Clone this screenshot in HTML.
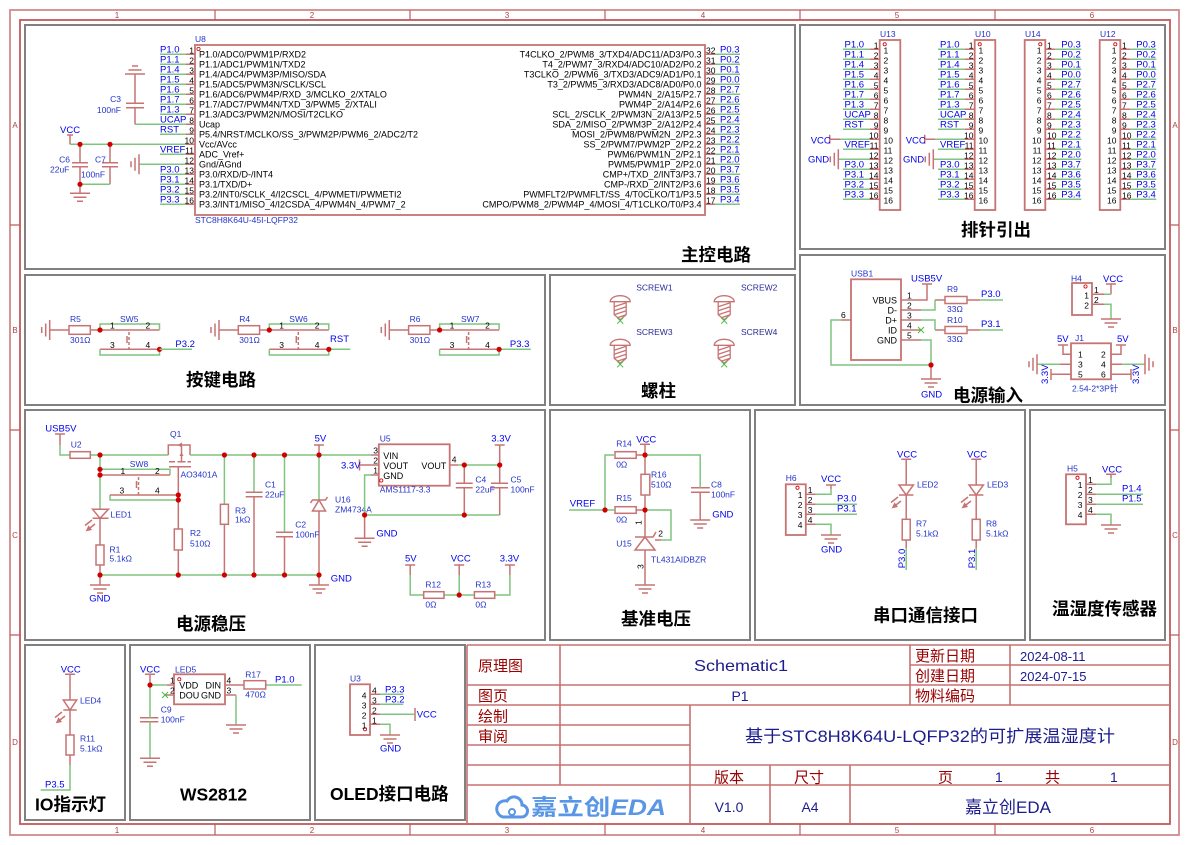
<!DOCTYPE html>
<html><head><meta charset="utf-8">
<style>
html,body{margin:0;padding:0;background:#fff}
svg{display:block}
text{font-family:"Liberation Sans","Noto Sans CJK SC",sans-serif}
.n{fill:#0000ee;font-size:9.5px}
.d{fill:#2233cc;font-size:8.5px}
.p{fill:#000;font-size:8.5px}
.nm{fill:#000;font-size:9px}
.t{fill:#000;font-size:17.5px;font-weight:bold}
.c{stroke:#c77373;fill:none;stroke-width:1.5}
.b{stroke:#c77373;fill:none;stroke-width:1.8}
.w{stroke:#80c480;fill:none;stroke-width:1.5}
.g{stroke:#808080;fill:none;stroke-width:2}
.fr{fill:#b04040;font-size:8px}
.tl{fill:#990000;font-size:15px}
.tv{fill:#1c1c8c;font-size:14px}
</style></head><body>
<svg width="1190" height="845" viewBox="0 0 1190 845" xmlns="http://www.w3.org/2000/svg">
<defs>
<g id="gd"><path d="M-10,0H10M-6.5,4H6.5M-3,8H3" stroke="#c77373" stroke-width="1.5" fill="none"/></g>
<g id="gu"><path d="M-10,0H10M-6.5,-4H6.5M-3,-8H3" stroke="#c77373" stroke-width="1.5" fill="none"/></g>
<g id="gl"><path d="M0,-10V10M-4,-6.5V6.5M-8,-3V3" stroke="#c77373" stroke-width="1.5" fill="none"/></g>
<g id="gr"><path d="M0,-10V10M4,-6.5V6.5M8,-3V3" stroke="#c77373" stroke-width="1.5" fill="none"/></g>
<circle id="j" r="2.6" fill="#d00000"/>
<marker id="ar" markerWidth="4" markerHeight="4" refX="2" refY="2" orient="auto"><path d="M0,0L4,2L0,4Z" fill="#c77373"/></marker>
<g id="sc">
<path d="M-10,6A10,6 0 0 1 10,6Z" stroke="#c77373" stroke-width="1.3" fill="none"/>
<path d="M-6,6V19L0,24L6,19V6M-6,11L6,7M-6,15L6,11M-6,19L6,15M-3,22L6,19" stroke="#c77373" stroke-width="1.3" fill="none"/>
<path d="M-3,22L3,28M3,22L-3,28" stroke="#40c040" stroke-width="1"/>
</g>
</defs>
<rect width="1190" height="845" fill="#fff"/>

<!-- frame -->
<rect x="10" y="10" width="1169" height="825" fill="none" stroke="#d08a8a" stroke-width="1.8"/>
<rect x="20" y="20" width="1150" height="804" fill="none" stroke="#c05a5a" stroke-width="1.8"/>
<path d="M215,10V20M410,10V20M605,10V20M800,10V20M995,10V20M215,824V835M410,824V835M605,824V835M800,824V835M995,824V835M10,225H20M10,430H20M10,635H20M1170,225H1179M1170,430H1179M1170,635H1179" stroke="#c05a5a" stroke-width="1.2"/>
<g class="fr" text-anchor="middle">
<text x="117" y="18">1</text><text x="312" y="18">2</text><text x="507" y="18">3</text><text x="703" y="18">4</text><text x="897" y="18">5</text><text x="1092" y="18">6</text>
<text x="117" y="833">1</text><text x="312" y="833">2</text><text x="507" y="833">3</text><text x="703" y="833">4</text><text x="897" y="833">5</text><text x="1092" y="833">6</text>
<text x="15" y="128">A</text><text x="15" y="333">B</text><text x="15" y="538">C</text><text x="15" y="745">D</text>
<text x="1175" y="128">A</text><text x="1175" y="333">B</text><text x="1175" y="538">C</text><text x="1175" y="745">D</text>
</g>

<!-- section boxes -->
<rect class="g" x="25" y="25" width="770" height="244"/>
<rect class="g" x="800" y="25" width="365" height="224"/>
<rect class="g" x="25" y="275" width="520" height="130"/>
<rect class="g" x="550" y="275" width="245" height="130"/>
<rect class="g" x="800" y="255" width="365" height="150"/>
<rect class="g" x="25" y="410" width="520" height="230"/>
<rect class="g" x="550" y="410" width="200" height="230"/>
<rect class="g" x="755" y="410" width="270" height="230"/>
<rect class="g" x="1030" y="410" width="135" height="230"/>
<rect class="g" x="25" y="645" width="100" height="175"/>
<rect class="g" x="130" y="645" width="180" height="175"/>
<rect class="g" x="315" y="645" width="150" height="175"/>

<!-- ===== 主控电路 ===== -->
<rect class="b" x="195" y="45" width="510" height="170"/>
<circle cx="198.5" cy="49" r="1.6" fill="none" stroke="#c00" stroke-width="0.8"/>
<text class="d" x="195" y="42">U8</text>
<text class="d" x="195" y="223">STC8H8K64U-45I-LQFP32</text>
<path class="w" d="M160,54.3H186M160,64.3H186M160,74.3H186M160,84.3H186M160,94.3H186M160,104.3H186M160,114.3H186M135,124.3H186M160,134.3H186M70,144.3H186M160,154.3H186M139,164.3H186M160,174.3H186M160,184.3H186M160,194.3H186M160,204.3H186"/>
<path class="c" d="M186,54.3H195M186,64.3H195M186,74.3H195M186,84.3H195M186,94.3H195M186,104.3H195M186,114.3H195M186,124.3H195M186,134.3H195M186,144.3H195M186,154.3H195M186,164.3H195M186,174.3H195M186,184.3H195M186,194.3H195M186,204.3H195"/>
<path class="c" d="M705,54.3H715M705,64.3H715M705,74.3H715M705,84.3H715M705,94.3H715M705,104.3H715M705,114.3H715M705,124.3H715M705,134.3H715M705,144.3H715M705,154.3H715M705,164.3H715M705,174.3H715M705,184.3H715M705,194.3H715M705,204.3H715"/>
<path class="w" d="M715,54.3H740M715,64.3H740M715,74.3H740M715,84.3H740M715,94.3H740M715,104.3H740M715,114.3H740M715,124.3H740M715,134.3H740M715,144.3H740M715,154.3H740M715,164.3H740M715,174.3H740M715,184.3H740M715,194.3H740M715,204.3H740"/>
<g class="nm">
<text x="199" y="57.6">P1.0/ADC0/PWM1P/RXD2</text>
<text x="199" y="67.6">P1.1/ADC1/PWM1N/TXD2</text>
<text x="199" y="77.6">P1.4/ADC4/PWM3P/MISO/SDA</text>
<text x="199" y="87.6">P1.5/ADC5/PWM3N/SCLK/SCL</text>
<text x="199" y="97.6">P1.6/ADC6/PWM4P/RXD_3/MCLKO_2/XTALO</text>
<text x="199" y="107.6">P1.7/ADC7/PWM4N/TXD_3/PWM5_2/XTALI</text>
<text x="199" y="117.6">P1.3/ADC3/PWM2N/MOSI/T2CLKO</text>
<text x="199" y="127.6">Ucap</text>
<text x="199" y="137.6">P5.4/NRST/MCLKO/SS_3/PWM2P/PWM6_2/ADC2/T2</text>
<text x="199" y="147.6">Vcc/AVcc</text>
<text x="199" y="157.6">ADC_Vref+</text>
<text x="199" y="167.6">Gnd/AGnd</text>
<text x="199" y="177.6">P3.0/RXD/D-/INT4</text>
<text x="199" y="187.6">P3.1/TXD/D+</text>
<text x="199" y="197.6">P3.2/INT0/SCLK_4/I2CSCL_4/PWMETI/PWMETI2</text>
<text x="199" y="207.6">P3.3/INT1/MISO_4/I2CSDA_4/PWM4N_4/PWM7_2</text>
</g>
<g class="nm" text-anchor="end">
<text x="701.5" y="57.6">T4CLKO_2/PWM8_3/TXD4/ADC11/AD3/P0.3</text>
<text x="701.5" y="67.6">T4_2/PWM7_3/RXD4/ADC10/AD2/P0.2</text>
<text x="701.5" y="77.6">T3CLKO_2/PWM6_3/TXD3/ADC9/AD1/P0.1</text>
<text x="701.5" y="87.6">T3_2/PWM5_3/RXD3/ADC8/AD0/P0.0</text>
<text x="701.5" y="97.6">PWM4N_2/A15/P2.7</text>
<text x="701.5" y="107.6">PWM4P_2/A14/P2.6</text>
<text x="701.5" y="117.6">SCL_2/SCLK_2/PWM3N_2/A13/P2.5</text>
<text x="701.5" y="127.6">SDA_2/MISO_2/PWM3P_2/A12/P2.4</text>
<text x="701.5" y="137.6">MOSI_2/PWM8/PWM2N_2/P2.3</text>
<text x="701.5" y="147.6">SS_2/PWM7/PWM2P_2/P2.2</text>
<text x="701.5" y="157.6">PWM6/PWM1N_2/P2.1</text>
<text x="701.5" y="167.6">PWM5/PWM1P_2/P2.0</text>
<text x="701.5" y="177.6">CMP+/TXD_2/INT3/P3.7</text>
<text x="701.5" y="187.6">CMP-/RXD_2/INT2/P3.6</text>
<text x="701.5" y="197.6">PWMFLT2/PWMFLT/SS_4/T0CLKO/T1/P3.5</text>
<text x="701.5" y="207.6">CMPO/PWM8_2/PWM4P_4/MOSI_4/T1CLKO/T0/P3.4</text>
</g>
<g class="p" text-anchor="end">
<text x="194" y="53.3">1</text><text x="194" y="63.3">2</text><text x="194" y="73.3">3</text><text x="194" y="83.3">4</text><text x="194" y="93.3">5</text><text x="194" y="103.3">6</text><text x="194" y="113.3">7</text><text x="194" y="123.3">8</text><text x="194" y="133.3">9</text><text x="194" y="143.3">10</text><text x="194" y="153.3">11</text><text x="194" y="163.3">12</text><text x="194" y="173.3">13</text><text x="194" y="183.3">14</text><text x="194" y="193.3">15</text><text x="194" y="203.3">16</text>
</g>
<g class="p">
<text x="706" y="53.3">32</text><text x="706" y="63.3">31</text><text x="706" y="73.3">30</text><text x="706" y="83.3">29</text><text x="706" y="93.3">28</text><text x="706" y="103.3">27</text><text x="706" y="113.3">26</text><text x="706" y="123.3">25</text><text x="706" y="133.3">24</text><text x="706" y="143.3">23</text><text x="706" y="153.3">22</text><text x="706" y="163.3">21</text><text x="706" y="173.3">20</text><text x="706" y="183.3">19</text><text x="706" y="193.3">18</text><text x="706" y="203.3">17</text>
</g>
<g class="n">
<text x="160" y="52.6">P1.0</text><text x="160" y="62.6">P1.1</text><text x="160" y="72.6">P1.4</text><text x="160" y="82.6">P1.5</text><text x="160" y="92.6">P1.6</text><text x="160" y="102.6">P1.7</text><text x="160" y="112.6">P1.3</text><text x="160" y="122.6">UCAP</text><text x="160" y="132.6">RST</text><text x="160" y="152.6">VREF</text><text x="160" y="172.6">P3.0</text><text x="160" y="182.6">P3.1</text><text x="160" y="192.6">P3.2</text><text x="160" y="202.6">P3.3</text>
<text x="720" y="52.6">P0.3</text><text x="720" y="62.6">P0.2</text><text x="720" y="72.6">P0.1</text><text x="720" y="82.6">P0.0</text><text x="720" y="92.6">P2.7</text><text x="720" y="102.6">P2.6</text><text x="720" y="112.6">P2.5</text><text x="720" y="122.6">P2.4</text><text x="720" y="132.6">P2.3</text><text x="720" y="142.6">P2.2</text><text x="720" y="152.6">P2.1</text><text x="720" y="162.6">P2.0</text><text x="720" y="172.6">P3.7</text><text x="720" y="182.6">P3.6</text><text x="720" y="192.6">P3.5</text><text x="720" y="202.6">P3.4</text>
</g>
<!-- C3 -->
<use href="#gu" x="135" y="74"/>
<path class="c" d="M135,74V103.3M126,103.3H144M126,107.7H144M135,107.7V124.3"/>
<text class="d" x="121" y="102" text-anchor="end">C3</text>
<text class="d" x="121" y="113" text-anchor="end">100nF</text>
<!-- VCC, C6, C7 -->
<text class="n" x="60" y="133">VCC</text>
<path class="c" d="M70,135V144.3M67,135H73"/>
<path class="c" d="M80,144.3V162.7M72,162.7H88M72,166.7H88M80,166.7V193.3M110,144.3V162.7M102,162.7H118M102,166.7H118M110,166.7V184.3"/>
<path class="w" d="M80,184.3H110"/>
<use href="#gd" x="80" y="193.3"/>
<use href="#j" x="80" y="144.3"/><use href="#j" x="110" y="144.3"/><use href="#j" x="80" y="184.3"/>
<text class="d" x="70" y="162.5" text-anchor="end">C6</text>
<text class="d" x="50" y="172.7">22uF</text>
<text class="d" x="95" y="162.5">C7</text>
<text class="d" x="81" y="177.3">100nF</text>
<use href="#gl" x="139" y="164.3"/>
<text class="t" x="681" y="261">主控电路</text>

<!-- ===== 排针引出 ===== -->
<rect class="b" x="879.7" y="40" width="20.6" height="170"/>
<rect class="b" x="974.7" y="40" width="20.6" height="170"/>
<rect class="b" x="1024.7" y="40" width="20.6" height="170"/>
<rect class="b" x="1099.7" y="40" width="20.6" height="170"/>
<g fill="none" stroke="#c00" stroke-width="0.8"><circle cx="884.7" cy="44.3" r="1.6"/><circle cx="979.7" cy="44.3" r="1.6"/><circle cx="1040.3" cy="44.3" r="1.6"/><circle cx="1115.3" cy="44.3" r="1.6"/></g>
<text class="d" x="880" y="37">U13</text><text class="d" x="975" y="37">U10</text><text class="d" x="1025" y="37">U14</text><text class="d" x="1100" y="37">U12</text>
<path class="w" d="M843,49.3H869.7M843,59.3H869.7M843,69.3H869.7M843,79.3H869.7M843,89.3H869.7M843,99.3H869.7M843,109.3H869.7M843,119.3H869.7M843,129.3H869.7M840,139.3H869.7M843,149.3H869.7M838.3,159.3H869.7M843,169.3H869.7M843,179.3H869.7M843,189.3H869.7M843,199.3H869.7"/>
<path class="c" d="M869.7,49.3H879.7M869.7,59.3H879.7M869.7,69.3H879.7M869.7,79.3H879.7M869.7,89.3H879.7M869.7,99.3H879.7M869.7,109.3H879.7M869.7,119.3H879.7M869.7,129.3H879.7M869.7,139.3H879.7M869.7,149.3H879.7M869.7,159.3H879.7M869.7,169.3H879.7M869.7,179.3H879.7M869.7,189.3H879.7M869.7,199.3H879.7M829.7,134.8V143.8M829.7,139.3H840"/>
<use href="#gl" x="838.3" y="159.3"/>
<text class="n" x="810.7" y="143.3">VCC</text><text class="n" x="808" y="162.7">GND</text>
<path class="w" d="M938,49.3H964.7M938,59.3H964.7M938,69.3H964.7M938,79.3H964.7M938,89.3H964.7M938,99.3H964.7M938,109.3H964.7M938,119.3H964.7M938,129.3H964.7M935,139.3H964.7M938,149.3H964.7M933.3,159.3H964.7M938,169.3H964.7M938,179.3H964.7M938,189.3H964.7M938,199.3H964.7"/>
<path class="c" d="M964.7,49.3H974.7M964.7,59.3H974.7M964.7,69.3H974.7M964.7,79.3H974.7M964.7,89.3H974.7M964.7,99.3H974.7M964.7,109.3H974.7M964.7,119.3H974.7M964.7,129.3H974.7M964.7,139.3H974.7M964.7,149.3H974.7M964.7,159.3H974.7M964.7,169.3H974.7M964.7,179.3H974.7M964.7,189.3H974.7M964.7,199.3H974.7M924.7,134.8V143.8M924.7,139.3H935"/>
<use href="#gl" x="933.3" y="159.3"/>
<text class="n" x="905.7" y="143.3">VCC</text><text class="n" x="903" y="162.7">GND</text>
<g class="n">
<text x="844.5" y="47.3">P1.0</text><text x="844.5" y="57.3">P1.1</text><text x="844.5" y="67.3">P1.4</text><text x="844.5" y="77.3">P1.5</text><text x="844.5" y="87.3">P1.6</text><text x="844.5" y="97.3">P1.7</text><text x="844.5" y="107.3">P1.3</text><text x="844.5" y="117.3">UCAP</text><text x="844.5" y="127.3">RST</text><text x="844.5" y="147.3">VREF</text><text x="844.5" y="167.3">P3.0</text><text x="844.5" y="177.3">P3.1</text><text x="844.5" y="187.3">P3.2</text><text x="844.5" y="197.3">P3.3</text>
<text x="940" y="47.3">P1.0</text><text x="940" y="57.3">P1.1</text><text x="940" y="67.3">P1.4</text><text x="940" y="77.3">P1.5</text><text x="940" y="87.3">P1.6</text><text x="940" y="97.3">P1.7</text><text x="940" y="107.3">P1.3</text><text x="940" y="117.3">UCAP</text><text x="940" y="127.3">RST</text><text x="940" y="147.3">VREF</text><text x="940" y="167.3">P3.0</text><text x="940" y="177.3">P3.1</text><text x="940" y="187.3">P3.2</text><text x="940" y="197.3">P3.3</text>
<text x="1061.3" y="47.3">P0.3</text><text x="1061.3" y="57.3">P0.2</text><text x="1061.3" y="67.3">P0.1</text><text x="1061.3" y="77.3">P0.0</text><text x="1061.3" y="87.3">P2.7</text><text x="1061.3" y="97.3">P2.6</text><text x="1061.3" y="107.3">P2.5</text><text x="1061.3" y="117.3">P2.4</text><text x="1061.3" y="127.3">P2.3</text><text x="1061.3" y="137.3">P2.2</text><text x="1061.3" y="147.3">P2.1</text><text x="1061.3" y="157.3">P2.0</text><text x="1061.3" y="167.3">P3.7</text><text x="1061.3" y="177.3">P3.6</text><text x="1061.3" y="187.3">P3.5</text><text x="1061.3" y="197.3">P3.4</text>
<text x="1136.3" y="47.3">P0.3</text><text x="1136.3" y="57.3">P0.2</text><text x="1136.3" y="67.3">P0.1</text><text x="1136.3" y="77.3">P0.0</text><text x="1136.3" y="87.3">P2.7</text><text x="1136.3" y="97.3">P2.6</text><text x="1136.3" y="107.3">P2.5</text><text x="1136.3" y="117.3">P2.4</text><text x="1136.3" y="127.3">P2.3</text><text x="1136.3" y="137.3">P2.2</text><text x="1136.3" y="147.3">P2.1</text><text x="1136.3" y="157.3">P2.0</text><text x="1136.3" y="167.3">P3.7</text><text x="1136.3" y="177.3">P3.6</text><text x="1136.3" y="187.3">P3.5</text><text x="1136.3" y="197.3">P3.4</text>
</g>
<path class="c" d="M1045.3,49.3H1055.3M1045.3,59.3H1055.3M1045.3,69.3H1055.3M1045.3,79.3H1055.3M1045.3,89.3H1055.3M1045.3,99.3H1055.3M1045.3,109.3H1055.3M1045.3,119.3H1055.3M1045.3,129.3H1055.3M1045.3,139.3H1055.3M1045.3,149.3H1055.3M1045.3,159.3H1055.3M1045.3,169.3H1055.3M1045.3,179.3H1055.3M1045.3,189.3H1055.3M1045.3,199.3H1055.3"/>
<path class="w" d="M1055.3,49.3H1081.3M1055.3,59.3H1081.3M1055.3,69.3H1081.3M1055.3,79.3H1081.3M1055.3,89.3H1081.3M1055.3,99.3H1081.3M1055.3,109.3H1081.3M1055.3,119.3H1081.3M1055.3,129.3H1081.3M1055.3,139.3H1081.3M1055.3,149.3H1081.3M1055.3,159.3H1081.3M1055.3,169.3H1081.3M1055.3,179.3H1081.3M1055.3,189.3H1081.3M1055.3,199.3H1081.3"/>
<path class="c" d="M1120.3,49.3H1130.3M1120.3,59.3H1130.3M1120.3,69.3H1130.3M1120.3,79.3H1130.3M1120.3,89.3H1130.3M1120.3,99.3H1130.3M1120.3,109.3H1130.3M1120.3,119.3H1130.3M1120.3,129.3H1130.3M1120.3,139.3H1130.3M1120.3,149.3H1130.3M1120.3,159.3H1130.3M1120.3,169.3H1130.3M1120.3,179.3H1130.3M1120.3,189.3H1130.3M1120.3,199.3H1130.3"/>
<path class="w" d="M1130.3,49.3H1156.3M1130.3,59.3H1156.3M1130.3,69.3H1156.3M1130.3,79.3H1156.3M1130.3,89.3H1156.3M1130.3,99.3H1156.3M1130.3,109.3H1156.3M1130.3,119.3H1156.3M1130.3,129.3H1156.3M1130.3,139.3H1156.3M1130.3,149.3H1156.3M1130.3,159.3H1156.3M1130.3,169.3H1156.3M1130.3,179.3H1156.3M1130.3,189.3H1156.3M1130.3,199.3H1156.3"/>
<g class="p" text-anchor="end">
<text x="878.5" y="48.3">1</text><text x="878.5" y="58.3">2</text><text x="878.5" y="68.3">3</text><text x="878.5" y="78.3">4</text><text x="878.5" y="88.3">5</text><text x="878.5" y="98.3">6</text><text x="878.5" y="108.3">7</text><text x="878.5" y="118.3">8</text><text x="878.5" y="128.3">9</text><text x="878.5" y="138.3">10</text><text x="878.5" y="148.3">11</text><text x="878.5" y="158.3">12</text><text x="878.5" y="168.3">13</text><text x="878.5" y="178.3">14</text><text x="878.5" y="188.3">15</text><text x="878.5" y="198.3">16</text>
<text x="973.5" y="48.3">1</text><text x="973.5" y="58.3">2</text><text x="973.5" y="68.3">3</text><text x="973.5" y="78.3">4</text><text x="973.5" y="88.3">5</text><text x="973.5" y="98.3">6</text><text x="973.5" y="108.3">7</text><text x="973.5" y="118.3">8</text><text x="973.5" y="128.3">9</text><text x="973.5" y="138.3">10</text><text x="973.5" y="148.3">11</text><text x="973.5" y="158.3">12</text><text x="973.5" y="168.3">13</text><text x="973.5" y="178.3">14</text><text x="973.5" y="188.3">15</text><text x="973.5" y="198.3">16</text>
<text x="1041.5" y="53.3">1</text><text x="1041.5" y="63.3">2</text><text x="1041.5" y="73.3">3</text><text x="1041.5" y="83.3">4</text><text x="1041.5" y="93.3">5</text><text x="1041.5" y="103.3">6</text><text x="1041.5" y="113.3">7</text><text x="1041.5" y="123.3">8</text><text x="1041.5" y="133.3">9</text><text x="1041.5" y="143.3">10</text><text x="1041.5" y="153.3">11</text><text x="1041.5" y="163.3">12</text><text x="1041.5" y="173.3">13</text><text x="1041.5" y="183.3">14</text><text x="1041.5" y="193.3">15</text><text x="1041.5" y="203.3">16</text>
<text x="1116.5" y="53.3">1</text><text x="1116.5" y="63.3">2</text><text x="1116.5" y="73.3">3</text><text x="1116.5" y="83.3">4</text><text x="1116.5" y="93.3">5</text><text x="1116.5" y="103.3">6</text><text x="1116.5" y="113.3">7</text><text x="1116.5" y="123.3">8</text><text x="1116.5" y="133.3">9</text><text x="1116.5" y="143.3">10</text><text x="1116.5" y="153.3">11</text><text x="1116.5" y="163.3">12</text><text x="1116.5" y="173.3">13</text><text x="1116.5" y="183.3">14</text><text x="1116.5" y="193.3">15</text><text x="1116.5" y="203.3">16</text>
</g>
<g class="p">
<text x="883.5" y="53.3">1</text><text x="883.5" y="63.3">2</text><text x="883.5" y="73.3">3</text><text x="883.5" y="83.3">4</text><text x="883.5" y="93.3">5</text><text x="883.5" y="103.3">6</text><text x="883.5" y="113.3">7</text><text x="883.5" y="123.3">8</text><text x="883.5" y="133.3">9</text><text x="883.5" y="143.3">10</text><text x="883.5" y="153.3">11</text><text x="883.5" y="163.3">12</text><text x="883.5" y="173.3">13</text><text x="883.5" y="183.3">14</text><text x="883.5" y="193.3">15</text><text x="883.5" y="203.3">16</text>
<text x="978.5" y="53.3">1</text><text x="978.5" y="63.3">2</text><text x="978.5" y="73.3">3</text><text x="978.5" y="83.3">4</text><text x="978.5" y="93.3">5</text><text x="978.5" y="103.3">6</text><text x="978.5" y="113.3">7</text><text x="978.5" y="123.3">8</text><text x="978.5" y="133.3">9</text><text x="978.5" y="143.3">10</text><text x="978.5" y="153.3">11</text><text x="978.5" y="163.3">12</text><text x="978.5" y="173.3">13</text><text x="978.5" y="183.3">14</text><text x="978.5" y="193.3">15</text><text x="978.5" y="203.3">16</text>
<text x="1047" y="48.3">1</text><text x="1047" y="58.3">2</text><text x="1047" y="68.3">3</text><text x="1047" y="78.3">4</text><text x="1047" y="88.3">5</text><text x="1047" y="98.3">6</text><text x="1047" y="108.3">7</text><text x="1047" y="118.3">8</text><text x="1047" y="128.3">9</text><text x="1047" y="138.3">10</text><text x="1047" y="148.3">11</text><text x="1047" y="158.3">12</text><text x="1047" y="168.3">13</text><text x="1047" y="178.3">14</text><text x="1047" y="188.3">15</text><text x="1047" y="198.3">16</text>
<text x="1122" y="48.3">1</text><text x="1122" y="58.3">2</text><text x="1122" y="68.3">3</text><text x="1122" y="78.3">4</text><text x="1122" y="88.3">5</text><text x="1122" y="98.3">6</text><text x="1122" y="108.3">7</text><text x="1122" y="118.3">8</text><text x="1122" y="128.3">9</text><text x="1122" y="138.3">10</text><text x="1122" y="148.3">11</text><text x="1122" y="158.3">12</text><text x="1122" y="168.3">13</text><text x="1122" y="178.3">14</text><text x="1122" y="188.3">15</text><text x="1122" y="198.3">16</text>
</g>
<text class="t" x="961" y="236">排针引出</text>

<!-- ===== 按键电路 ===== -->
<g id="kb1">
<use href="#gl" x="49.7" y="330"/>
<path class="c" d="M49.7,330H69M90.3,330H100"/>
<rect class="c" x="69" y="325.7" width="21.3" height="8.6"/>
<path class="c" d="M100,330H159.5M100,349.3H159.5M127,336V343"/>
<path class="c" d="M129,332V349" stroke-dasharray="3,2"/>
<path class="w" d="M100,330V324H159.5V330M100,349.3V355H159.5V349.3"/>
<use href="#j" x="100" y="330"/><use href="#j" x="159.5" y="349.3"/>
</g>
<path class="w" d="M159.5,349.3H192"/>
<g transform="translate(169.3,0)">
<use href="#gl" x="49.7" y="330"/>
<path class="c" d="M49.7,330H69M90.3,330H100"/>
<rect class="c" x="69" y="325.7" width="21.3" height="8.6"/>
<path class="c" d="M100,330H159.5M100,349.3H159.5M127,336V343"/>
<path class="c" d="M129,332V349" stroke-dasharray="3,2"/>
<path class="w" d="M100,330V324H159.5V330M100,349.3V355H159.5V349.3M159.5,349.3H181"/>
<use href="#j" x="100" y="330"/><use href="#j" x="159.5" y="349.3"/>
</g>
<g transform="translate(339.6,0)">
<use href="#gl" x="49.7" y="330"/>
<path class="c" d="M49.7,330H69M90.3,330H100"/>
<rect class="c" x="69" y="325.7" width="21.3" height="8.6"/>
<path class="c" d="M100,330H159.5M100,349.3H159.5M127,336V343"/>
<path class="c" d="M129,332V349" stroke-dasharray="3,2"/>
<path class="w" d="M100,330V324H159.5V330M100,349.3V355H159.5V349.3M159.5,349.3H191.2"/>
<use href="#j" x="100" y="330"/><use href="#j" x="159.5" y="349.3"/>
</g>
<g class="d">
<text x="70" y="322">R5</text><text x="70" y="343">301Ω</text><text x="120" y="322">SW5</text>
<text x="239.3" y="322">R4</text><text x="239.3" y="343">301Ω</text><text x="289.3" y="322">SW6</text>
<text x="409.6" y="322">R6</text><text x="409.6" y="343">301Ω</text><text x="461" y="322">SW7</text>
</g>
<g class="p">
<text x="110" y="328.5">1</text><text x="145.5" y="328.5">2</text><text x="110" y="348">3</text><text x="145.5" y="348">4</text>
<text x="279.3" y="328.5">1</text><text x="314.8" y="328.5">2</text><text x="279.3" y="348">3</text><text x="314.8" y="348">4</text>
<text x="449.6" y="328.5">1</text><text x="485.1" y="328.5">2</text><text x="449.6" y="348">3</text><text x="485.1" y="348">4</text>
</g>
<text class="n" x="175.4" y="347">P3.2</text>
<text class="n" x="330" y="342">RST</text>
<text class="n" x="509.9" y="347">P3.3</text>
<text class="t" x="186" y="386">按键电路</text>

<!-- ===== 螺柱 ===== -->
<use href="#sc" x="620.2" y="295.7"/>
<use href="#sc" x="724.2" y="295.7"/>
<use href="#sc" x="620.2" y="339.3"/>
<use href="#sc" x="724.2" y="339.3"/>
<g fill="#2a2a9a" font-size="8.5px">
<text x="636.2" y="290.7">SCREW1</text><text x="741" y="290.7">SCREW2</text>
<text x="636.2" y="335">SCREW3</text><text x="741" y="335">SCREW4</text>
</g>
<text class="t" x="641" y="397">螺柱</text>

<!-- ===== 电源输入 ===== -->
<rect class="b" x="851" y="279.3" width="50" height="80.7"/>
<text class="d" x="851" y="276.5">USB1</text>
<g class="nm" text-anchor="end">
<text x="897" y="303.5">VBUS</text><text x="897" y="313.5">D-</text><text x="897" y="323.5">D+</text><text x="897" y="333.5">ID</text><text x="897" y="343.5">GND</text>
</g>
<g class="p">
<text x="907" y="298.3">1</text><text x="907" y="308.3">2</text><text x="907" y="318.3">3</text><text x="907" y="328.3">4</text><text x="907" y="338.3">5</text><text x="841" y="318">6</text>
</g>
<path class="c" d="M901,300H927V284M922,284H932M901,310H921M901,320H921M901,330H921M901,340H921M935,300H945M967,300H980M935,330H945M967,330H980M851,320H841M931,365V379"/>
<path class="w" d="M921,310H935V300M921,320H935V330M980,300H1003M980,330H1003M921,340H931V365M841,320H831V365H931"/>
<path d="M918,327L924,333M924,327L918,333" stroke="#40c040" stroke-width="1"/>
<rect class="c" x="945" y="296.5" width="22" height="7"/>
<rect class="c" x="945" y="326.5" width="22" height="7"/>
<use href="#j" x="931" y="365"/>
<use href="#gd" x="931" y="379"/>
<text class="n" x="911" y="281.7">USB5V</text>
<text class="d" x="947" y="292">R9</text><text class="d" x="947" y="312">33Ω</text>
<text class="d" x="947" y="323">R10</text><text class="d" x="947" y="342">33Ω</text>
<text class="n" x="981" y="297">P3.0</text><text class="n" x="981" y="327">P3.1</text>
<text class="n" x="921" y="397.5">GND</text>
<!-- H4 -->
<rect class="b" x="1072" y="283" width="20" height="32"/>
<circle cx="1085.5" cy="286.5" r="1.6" fill="none" stroke="#c00" stroke-width="0.8"/>
<text class="d" x="1071" y="281.5">H4</text>
<path class="c" d="M1092,294.3H1104M1092,304.3H1104M1111,294.3V284M1106,284H1116"/>
<path class="w" d="M1104,294.3H1111M1104,304.3H1111V319"/>
<use href="#gd" x="1111" y="319"/>
<text class="n" x="1103" y="282">VCC</text>
<g class="p"><text x="1094" y="293">1</text><text x="1094" y="303">2</text><text x="1089" y="298.5" text-anchor="end">1</text><text x="1089" y="308.5" text-anchor="end">2</text></g>
<!-- J1 -->
<rect class="b" x="1071" y="343.3" width="40" height="36"/>
<text class="d" x="1075" y="341" font-size="5px">J1</text>
<g class="p">
<text x="1078" y="357.5">1</text><text x="1101" y="357.5">2</text><text x="1078" y="367.5">3</text><text x="1101" y="367.5">4</text><text x="1078" y="377.5">5</text><text x="1101" y="377.5">6</text>
</g>
<path class="c" d="M1071,354.3H1063V345M1058,345H1068M1111,354.3H1121V345M1116,345H1126M1071,364.3H1060M1111,364.3H1122M1071,374.3H1051M1051,369V380M1111,374.3H1131M1131,369V380"/>
<path class="w" d="M1060,364.3H1037M1122,364.3H1145"/>
<use href="#gl" x="1037" y="364.3"/>
<use href="#gr" x="1145" y="364.3"/>
<text class="n" x="1057" y="342">5V</text><text class="n" x="1117" y="342">5V</text>
<text class="n" transform="translate(1048,384) rotate(-90)">3.3V</text>
<text class="n" transform="translate(1139,384) rotate(-90)">3.3V</text>
<text class="d" x="1072" y="391.7" font-size="8px">2.54-2*3P针</text>
<text class="t" x="953" y="401.5">电源输入</text>

<!-- ===== 电源稳压 ===== -->
<text class="n" x="45.3" y="431.7">USB5V</text>
<path class="c" d="M60,434V445M55,434H65"/>
<path class="w" d="M60,445V455H70M90.3,455H168.3M100,455V509.3"/>
<rect class="c" x="70" y="451.7" width="20.3" height="6.6"/>
<text class="d" x="70.7" y="447.3">U2</text>
<!-- SW8 -->
<path class="w" d="M100,469.3H170V475M110,495V500H178.3"/>
<path class="c" d="M100,475H170M110,495H178.3M136.5,481V488"/>
<path class="c" d="M138.5,477V494.5" stroke-dasharray="3,2"/>
<text class="d" x="129.8" y="467">SW8</text>
<g class="p"><text x="120.5" y="473.8">1</text><text x="155" y="473.8">2</text><text x="119.5" y="493.5">3</text><text x="155" y="493.5">4</text></g>
<!-- Q1 -->
<path class="c" d="M168.3,455V445H190V455M181.5,445V461M169,461.7H175M177.5,461.7H185.5M187.5,461.7H191M169,466.7H191M178.3,466.7V495M178.3,500V529"/>
<path d="M177.5,445L182,442.5V447.5Z" fill="#c77373"/>
<path d="M181.5,452L179.5,456H183.5Z" fill="#c77373"/>
<path class="w" d="M190,455H371"/>
<text class="d" x="170" y="437">Q1</text>
<text class="d" x="180.5" y="477.7">AO3401A</text>
<!-- LED1 R1 -->
<path class="c" d="M92.6,509.3H108.5L100,518.3ZM92.6,518.3H108.5M100,518.3V545M100,565V575"/>
<rect class="c" x="96" y="545" width="8" height="20"/>
<path class="c" d="M92,520L85,525.5M95,524L88,529.5" stroke-width="1" marker-end="url(#ar)"/>
<text class="d" x="110.5" y="517.3">LED1</text>
<text class="d" x="109.5" y="552.3">R1</text><text class="d" x="109.5" y="561.7">5.1kΩ</text>
<!-- R2 -->
<rect class="c" x="174.3" y="529" width="8" height="21"/>
<path class="c" d="M178.3,550V575"/>
<text class="d" x="190" y="536">R2</text><text class="d" x="190" y="546.7">510Ω</text>
<!-- R3 C1 C2 U16 -->
<path class="w" d="M224.4,455V504.3M254,455V492.3M284.5,455V532.3M319,455V500"/>
<rect class="c" x="220.4" y="504.3" width="8" height="20"/>
<path class="c" d="M224.4,524.3V575M245.7,492.3H262.6M245.7,496.7H262.6M254,496.7V575M276,532.3H293M276,536.7H293M284.5,536.7V575"/>
<path class="c" d="M310.5,503L312.5,500H325.5L327.5,497M319,500L312.5,511H325.5ZM319,511V575"/>
<path class="w" d="M100,575H319"/>
<path class="c" d="M100,575V585M319,575V585M319,445V455M314,445H324"/>
<use href="#gd" x="100" y="585"/><use href="#gd" x="319" y="585"/>
<use href="#j" x="100" y="455"/><use href="#j" x="100" y="469.3"/><use href="#j" x="100" y="475"/>
<use href="#j" x="178.3" y="495"/><use href="#j" x="178.3" y="500"/>
<use href="#j" x="224.4" y="455"/><use href="#j" x="254" y="455"/><use href="#j" x="284.5" y="455"/><use href="#j" x="319" y="455"/>
<use href="#j" x="100" y="575"/><use href="#j" x="178.3" y="575"/><use href="#j" x="224.4" y="575"/><use href="#j" x="254" y="575"/><use href="#j" x="284.5" y="575"/><use href="#j" x="319" y="575"/>
<text class="d" x="235" y="513.3">R3</text><text class="d" x="235" y="522.3">1kΩ</text>
<text class="d" x="265" y="487.3">C1</text><text class="d" x="265" y="497.3">22uF</text>
<text class="d" x="295.3" y="527.3">C2</text><text class="d" x="295.3" y="537.3">100nF</text>
<text class="d" x="335" y="502.3">U16</text><text class="d" x="335" y="512.3">ZM4734A</text>
<text class="n" x="314.6" y="441.7">5V</text>
<text class="n" x="89.3" y="601.7">GND</text>
<text class="n" x="330.8" y="581.7">GND</text>
<!-- U5 -->
<rect class="b" x="378.8" y="444.3" width="70.9" height="41.4"/>
<circle cx="381.3" cy="480.5" r="1.6" fill="none" stroke="#c00" stroke-width="0.8"/>
<text class="d" x="379.8" y="441.7">U5</text>
<text class="d" x="379.8" y="492.3">AMS1117-3.3</text>
<g class="nm"><text x="383.2" y="459">VIN</text><text x="383.2" y="469">VOUT</text><text x="383.2" y="479">GND</text><text x="446.4" y="469" text-anchor="end">VOUT</text></g>
<g class="p" text-anchor="end"><text x="378" y="453.5">3</text><text x="378" y="463.5">2</text><text x="378" y="473.5">1</text></g>
<text class="p" x="451.8" y="462.3">4</text>
<path class="c" d="M371,455H378.8M359.5,465H378.8M359.5,459.5V470.5M371,475H378.8M449.7,465H458M364.6,515V538.3"/>
<path class="w" d="M371,475H364.6V515H499.7M458,465H499.7"/>
<use href="#gd" x="364.6" y="538.3"/>
<text class="n" x="341" y="468.3">3.3V</text>
<text class="n" x="376.4" y="536.7">GND</text>
<path class="c" d="M499.7,445V465M494.7,445H504.7M464.3,465V483.3M455.8,483.3H472.7M455.8,487.7H472.7M464.3,487.7V515M499.7,465V483.3M491,483.3H508M491,487.7H508M499.7,487.7V515"/>
<use href="#j" x="364.6" y="515"/><use href="#j" x="464.3" y="515"/><use href="#j" x="464.3" y="465"/><use href="#j" x="499.7" y="465"/>
<text class="n" x="491.3" y="441.7">3.3V</text>
<text class="d" x="475.4" y="482.3">C4</text><text class="d" x="475.4" y="492.3">22uF</text>
<text class="d" x="510.5" y="482.3">C5</text><text class="d" x="510.5" y="492.3">100nF</text>
<!-- R12 R13 -->
<path class="c" d="M410.2,565V575M405.2,565H415.2M459.2,565V575M454.2,565H464.2M509.9,565V575M504.9,565H514.9"/>
<path class="w" d="M410.2,575V595H423.7M444,595H474.4M459.2,575V595M494.7,595H509.9V575"/>
<rect class="c" x="423.7" y="591.7" width="20.3" height="6.6"/>
<rect class="c" x="474.4" y="591.7" width="20.3" height="6.6"/>
<use href="#j" x="459.2" y="595"/>
<text class="n" x="405" y="561.7">5V</text><text class="n" x="450.7" y="561.7">VCC</text><text class="n" x="499.7" y="561.7">3.3V</text>
<text class="d" x="425.4" y="587.3">R12</text><text class="d" x="425.4" y="607.3">0Ω</text>
<text class="d" x="475.4" y="587.3">R13</text><text class="d" x="475.4" y="607.3">0Ω</text>
<text class="t" x="176" y="630">电源稳压</text>

<!-- ===== 基准电压 ===== -->
<text class="n" x="636.2" y="442.3">VCC</text>
<path class="c" d="M645,444.3V455M640,444.3H650M636.2,455H645M645,455V474.3M645,495V510M636.2,510H645M645,510V537M635,537H653L656,532M645,537L635,550H655ZM645,550V585M655,540H661M700.2,492.3V520M691,487.7H709.8M691,492.3H709.8"/>
<rect class="c" x="615" y="451.7" width="21.2" height="6.6"/>
<rect class="c" x="615" y="506.7" width="21.2" height="6.6"/>
<rect class="c" x="641" y="474.3" width="8.8" height="20.7"/>
<path class="w" d="M615,455H605V510M645,455H700.2V487.7M569,510H615M645,510H671V540H661"/>
<use href="#gd" x="700.2" y="520"/><use href="#gd" x="645" y="585"/>
<use href="#j" x="645" y="455"/><use href="#j" x="605" y="510"/><use href="#j" x="645" y="510"/>
<text class="d" x="616.2" y="446.7">R14</text><text class="d" x="616.2" y="467.3">0Ω</text>
<text class="d" x="651" y="477.7">R16</text><text class="d" x="651" y="487.3">510Ω</text>
<text class="d" x="616.2" y="501">R15</text><text class="d" x="616.2" y="522.3">0Ω</text>
<text class="d" x="711" y="487.7">C8</text><text class="d" x="711" y="497.3">100nF</text>
<text class="n" x="712.2" y="517.7">GND</text>
<text class="n" x="569.8" y="506.7">VREF</text>
<text class="d" x="616.2" y="546.7">U15</text>
<text class="d" x="651" y="562.3">TL431AIDBZR</text>
<text class="p" x="658.2" y="536.7">2</text>
<text class="p" transform="translate(641.5,525) rotate(-90)">1</text>
<text class="p" transform="translate(643.5,569) rotate(-90)">3</text>
<text class="t" x="621" y="625">基准电压</text>

<!-- ===== 串口通信接口 ===== -->
<rect class="b" x="785.8" y="484.3" width="20" height="50.7"/>
<circle cx="797.5" cy="487.8" r="1.6" fill="none" stroke="#c00" stroke-width="0.8"/>
<text class="d" x="785.8" y="481">H6</text>
<path class="c" d="M805.8,494.3H815.8M805.8,504.3H815.8M805.8,514.3H815.8M805.8,524.3H815.8M831,485V489M826,485H836"/>
<path class="w" d="M815.8,494.3H831V489M815.8,504.3H857M815.8,514.3H857M815.8,524.3H831V535"/>
<use href="#gd" x="831" y="535"/>
<g class="p" text-anchor="end"><text x="802.5" y="498">1</text><text x="802.5" y="508">2</text><text x="802.5" y="518">3</text><text x="802.5" y="528">4</text></g>
<g class="p"><text x="807.8" y="492.8">1</text><text x="807.8" y="502.8">2</text><text x="807.8" y="512.8">3</text><text x="807.8" y="522.8">4</text></g>
<text class="n" x="821" y="482">VCC</text>
<text class="n" x="837" y="501.7">P3.0</text><text class="n" x="837" y="511.7">P3.1</text>
<text class="n" x="821" y="552.3">GND</text>
<!-- LED2 / LED3 -->
<path class="c" d="M906.2,459.3V485M901.2,459.3H911.2M899,485H913.4L906.2,495ZM899,495H913.4M906.2,495V519.3M906.2,540V548"/>
<rect class="c" x="902.2" y="519.3" width="8" height="20.7"/>
<path class="w" d="M906.2,548V570"/>
<path class="c" d="M898,497L891,502.5M901,501L894,506.5" stroke-width="1" marker-end="url(#ar)"/>
<path class="c" d="M976.2,459.3V485M971.2,459.3H981.2M969,485H983.4L976.2,495ZM969,495H983.4M976.2,495V519.3M976.2,540V548"/>
<rect class="c" x="972.2" y="519.3" width="8" height="20.7"/>
<path class="w" d="M976.2,548V570"/>
<path class="c" d="M968,497L961,502.5M971,501L964,506.5" stroke-width="1" marker-end="url(#ar)"/>
<text class="n" x="897" y="457.3">VCC</text><text class="n" x="967" y="457.3">VCC</text>
<text class="d" x="917" y="487.7">LED2</text><text class="d" x="987" y="487.7">LED3</text>
<text class="d" x="916" y="526.7">R7</text><text class="d" x="916" y="536.7">5.1kΩ</text>
<text class="d" x="986" y="526.7">R8</text><text class="d" x="986" y="536.7">5.1kΩ</text>
<text class="n" transform="translate(905,568.3) rotate(-90)">P3.0</text>
<text class="n" transform="translate(975,568.3) rotate(-90)">P3.1</text>
<text class="t" x="873" y="621.7">串口通信接口</text>

<!-- ===== 温湿度传感器 ===== -->
<rect class="b" x="1066" y="474.3" width="20" height="50"/>
<circle cx="1077.5" cy="477.8" r="1.6" fill="none" stroke="#c00" stroke-width="0.8"/>
<text class="d" x="1067" y="471.7">H5</text>
<path class="c" d="M1086,484.3H1096M1086,494.3H1096M1086,504.3H1096M1086,514.3H1096M1111,474.3V478M1106,474.3H1116"/>
<path class="w" d="M1096,484.3H1111V478M1096,494.3H1143M1096,504.3H1143M1096,514.3H1111V525"/>
<use href="#gd" x="1111" y="525"/>
<g class="p" text-anchor="end"><text x="1082.5" y="488">1</text><text x="1082.5" y="498">2</text><text x="1082.5" y="508">3</text><text x="1082.5" y="518">4</text></g>
<g class="p"><text x="1088" y="482.8">1</text><text x="1088" y="492.8">2</text><text x="1088" y="502.8">3</text><text x="1088" y="512.8">4</text></g>
<text class="n" x="1102" y="472.3">VCC</text>
<text class="n" x="1122" y="491.7">P1.4</text><text class="n" x="1122" y="501.7">P1.5</text>
<text class="t" x="1052" y="615">温湿度传感器</text>

<!-- ===== IO指示灯 ===== -->
<text class="n" x="60.7" y="672.3">VCC</text>
<path class="c" d="M70,674.3V700M65,674.3H75M63.3,700H76.7L70,710ZM63.3,710H76.7M70,710V735M70,755V765"/>
<rect class="c" x="66" y="735" width="8" height="20"/>
<path class="c" d="M62,712L55,717.5M65,716L58,721.5" stroke-width="1" marker-end="url(#ar)"/>
<path class="w" d="M70,765V790H40.7"/>
<text class="d" x="80" y="703.3">LED4</text>
<text class="d" x="80" y="741.7">R11</text><text class="d" x="80" y="751.7">5.1kΩ</text>
<text class="n" x="45" y="787.3">P3.5</text>
<text class="t" x="35" y="810.7">IO指示灯</text>

<!-- ===== WS2812 ===== -->
<text class="n" x="140" y="672.3">VCC</text>
<path class="c" d="M150,674.3V685M145,674.3H155M166.7,685H174M165,695H174M140,717.7H158.3M140,721.7H158.3M225,685H244M225,695H236"/>
<path class="w" d="M150,685H166.7M150,685V717.7M150,721.7V758.3M265.7,685H301.7M236,695V725"/>
<path d="M162,692L168,698M168,692L162,698" stroke="#40c040" stroke-width="1"/>
<rect class="b" x="174" y="674.3" width="51" height="30"/>
<circle cx="179.3" cy="679.3" r="1.6" fill="none" stroke="#c00" stroke-width="0.8"/>
<rect class="c" x="244" y="680.7" width="21.7" height="8.3"/>
<use href="#j" x="150" y="685"/>
<use href="#gd" x="150" y="758.3"/><use href="#gd" x="236" y="725"/>
<text class="d" x="175" y="672.3">LED5</text>
<g class="nm"><text x="179.3" y="688.3">VDD</text><text x="179.3" y="698.3">DOU</text><text x="221" y="688.3" text-anchor="end">DIN</text><text x="221" y="698.3" text-anchor="end">GND</text></g>
<g class="p"><text x="170" y="683.3">1</text><text x="170" y="693.3">2</text><text x="226.5" y="683.3">4</text><text x="226.5" y="693.3">3</text></g>
<text class="d" x="160.7" y="712.3">C9</text><text class="d" x="160.7" y="722.3">100nF</text>
<text class="d" x="245.3" y="677.3">R17</text><text class="d" x="245.3" y="697.3">470Ω</text>
<text class="n" x="275" y="682.3">P1.0</text>
<text class="t" x="180" y="800.7">WS2812</text>

<!-- ===== OLED ===== -->
<rect class="b" x="350" y="684.3" width="20" height="50.7"/>
<circle cx="365" cy="729.3" r="1.6" fill="none" stroke="#c00" stroke-width="0.8"/>
<text class="d" x="350" y="681.7">U3</text>
<path class="c" d="M370,694.3H380M370,704.3H380M370,714.3H380M370,724.3H380M415,708V721"/>
<path class="w" d="M380,694.3H403.3M380,704.3H403.3M380,714.3H415M380,724.3H390V735"/>
<use href="#gd" x="390" y="735"/>
<g class="p" text-anchor="end"><text x="366.5" y="698.3">4</text><text x="366.5" y="708.3">3</text><text x="366.5" y="718.3">2</text><text x="366.5" y="728.3">1</text></g>
<g class="p"><text x="372" y="693.3">4</text><text x="372" y="703.3">3</text><text x="372" y="713.3">2</text><text x="372" y="723.3">1</text></g>
<text class="n" x="385" y="692.3">P3.3</text><text class="n" x="385" y="702.3">P3.2</text>
<text class="n" x="416.7" y="717.3">VCC</text>
<text class="n" x="380" y="751.7">GND</text>
<text class="t" x="330" y="800">OLED接口电路</text>

<!-- ===== Title block ===== -->
<path d="M467,645V824M467,645H1170M467,685H1170M467,705H1170M467,725H690M467,745H690M467,765H1170M467,785H1170M910,665H1170M560,645V785M690,705V824M770,765V824M850,765V824M910,645V705M1010,645V705" stroke="#c87070" stroke-width="1.6" fill="none"/>
<g class="tl">
<text x="478" y="671">原理图</text>
<text x="478" y="701">图页</text>
<text x="478" y="721.5">绘制</text>
<text x="478" y="741.5">审阅</text>
<text x="915" y="661">更新日期</text>
<text x="915" y="681">创建日期</text>
<text x="915" y="701">物料编码</text>
<text x="729" y="782.5" text-anchor="middle">版本</text>
<text x="809" y="782.5" text-anchor="middle">尺寸</text>
<text x="938" y="782.5">页</text>
<text x="1045" y="782.5">共</text>
</g>
<g class="tv">
<text x="741" y="671" text-anchor="middle" font-size="16px" textLength="94" lengthAdjust="spacingAndGlyphs">Schematic1</text>
<text x="740" y="701" text-anchor="middle">P1</text>
<text x="1020" y="661" font-size="13px">2024-08-11</text>
<text x="1020" y="681" font-size="13px">2024-07-15</text>
<text x="745" y="742" font-size="17px" textLength="370" lengthAdjust="spacingAndGlyphs">基于STC8H8K64U-LQFP32的可扩展温湿度计</text>
<text x="995" y="782">1</text>
<text x="1110" y="782">1</text>
<text x="729" y="812" text-anchor="middle">V1.0</text>
<text x="810" y="812" text-anchor="middle">A4</text>
<text x="1008" y="813" text-anchor="middle" font-size="17px">嘉立创EDA</text>
</g>
<!-- logo -->
<path d="M503,817H521A6,6 0 0 0 522,805A8,8 0 0 0 507,801A7,7 0 0 0 503,817Z" fill="none" stroke="#5a96e6" stroke-width="3"/>
<circle cx="512" cy="812" r="3" fill="none" stroke="#5a96e6" stroke-width="2"/>
<text x="531" y="815" font-size="22px" font-weight="bold" fill="#5a96e6" textLength="135" lengthAdjust="spacingAndGlyphs">嘉立创<tspan font-style="italic">EDA</tspan></text>
</svg>
</body></html>
